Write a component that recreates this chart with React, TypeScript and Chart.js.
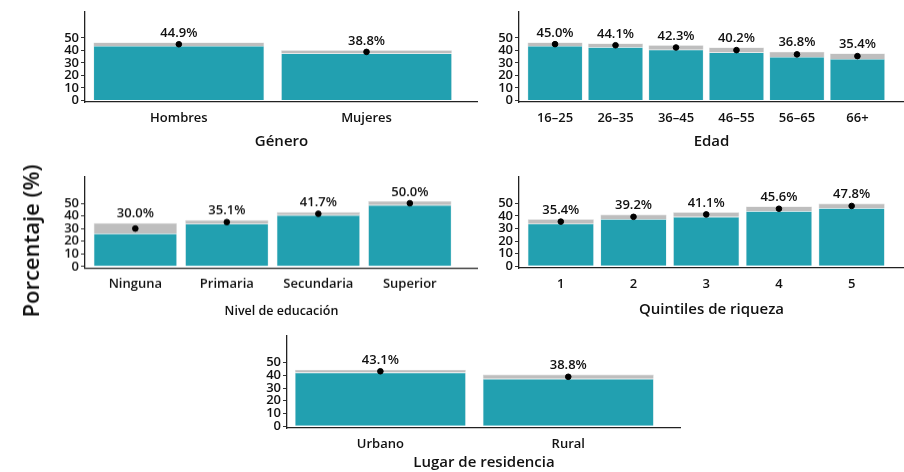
import React, { useEffect, useRef } from "react";
import { Chart, registerables } from "chart.js";

Chart.register(...registerables);

// ---------- DATA ----------
const generoLabels = ["Hombres", "Mujeres"];
const generoValues = [44.9, 38.8];
const generoLow = [43.6, 37.6];
const generoHigh = [46.3, 40.2];

const edadLabels = ["16–25", "26–35", "36–45", "46–55", "56–65", "66+"];
const edadValues = [45.0, 44.1, 42.3, 40.2, 36.8, 35.4];
const edadLow = [43.6, 42.6, 40.6, 38.3, 34.7, 33.2];
const edadHigh = [46.3, 45.5, 44.1, 42.3, 38.9, 37.6];

const educLabels = ["Ninguna", "Primaria", "Secundaria", "Superior"];
const educValues = [30.0, 35.1, 41.7, 50.0];
const educLow = [26.0, 33.7, 40.6, 48.6];
const educHigh = [34.3, 36.6, 43.0, 51.6];

const quintilLabels = ["1", "2", "3", "4", "5"];
const quintilValues = [35.4, 39.2, 41.1, 45.6, 47.8];
const quintilLow = [33.7, 37.4, 39.2, 43.7, 46.0];
const quintilHigh = [37.3, 41.0, 42.9, 47.4, 49.7];

const residLabels = ["Urbano", "Rural"];
const residValues = [43.1, 38.8];
const residLow = [42.1, 37.2];
const residHigh = [44.3, 40.5];

const yTicks = [0, 10, 20, 30, 40, 50];
const yAxisTitle = "Porcentaje (%)";

// ---------- STYLE ----------
const FONT = "'Open Sans', 'Noto Sans', sans-serif";
const TEAL = "#22A0B0";
const GREY = "#BEBEBE";
const TEXT = "#111111";
const Y_W = 45;

type PanelProps = {
  labels: string[];
  values: number[];
  low: number[];
  high: number[];
  title: string;
  titleSize: number;
  left: number;
  right: number;
  top: number;
  bottom: number;
  xmin: number;
  xmax: number;
  titleY: number;
};

function Panel(p: PanelProps) {
  const ref = useRef<HTMLCanvasElement | null>(null);
  const xH = p.titleY + p.titleSize * 0.6 - p.bottom;
  const width = p.right - p.left + Y_W + 1;
  const height = p.bottom - p.top + xH;

  useEffect(() => {
    if (!ref.current) return;
    const labelPlugin = {
      id: "valueLabels",
      afterDatasetsDraw(chart: any) {
        const ctx = chart.ctx;
        const xs = chart.scales.x;
        const ys = chart.scales.y;
        ctx.save();
        ctx.font = `600 13px ${FONT}`;
        ctx.fillStyle = TEXT;
        ctx.textAlign = "center";
        ctx.textBaseline = "alphabetic";
        p.values.forEach((v, i) => {
          const x = xs.getPixelForValue(i);
          const y = ys.getPixelForValue(p.high[i]) - 5.5;
          ctx.fillText(v.toFixed(1) + "%", x, y);
        });
        ctx.restore();
      },
    };
    const chart = new Chart(ref.current, {
      type: "bar",
      data: {
        datasets: [
          {
            type: "bar",
            data: p.low.map((v, i) => ({ x: i, y: v })),
            backgroundColor: TEAL,
            borderColor: "#cfe3e6",
            borderWidth: 0.6,
            grouped: false,
            categoryPercentage: 1,
            barPercentage: 0.91,
            order: 3,
          } as any,
          {
            type: "bar",
            data: p.low.map((v, i) => ({ x: i, y: [v, p.high[i]] })),
            backgroundColor: GREY,
            borderColor: "#d6d6d6",
            borderWidth: 0.6,
            grouped: false,
            categoryPercentage: 1,
            barPercentage: 0.91,
            order: 2,
          } as any,
          {
            type: "scatter",
            data: p.values.map((v, i) => ({ x: i, y: v })),
            backgroundColor: "#000",
            borderColor: "#000",
            pointRadius: 2.8,
            clip: false,
            order: 1,
          } as any,
        ],
      },
      options: {
        animation: false,
        responsive: false,
        devicePixelRatio: 1,
        layout: { padding: 0, autoPadding: false },
        plugins: { legend: { display: false }, tooltip: { enabled: false } },
        scales: {
          x: {
            type: "linear",
            min: p.xmin,
            max: p.xmax,
            offset: false,
            afterBuildTicks: (s: any) => {
              s.ticks = p.labels.map((_, i) => ({ value: i }));
            },
            afterFit: (s: any) => {
              s.height = xH;
              s.paddingLeft = 0;
              s.paddingRight = 0;
            },
            ticks: {
              autoSkip: false,
              maxRotation: 0,
              padding: 8,
              color: TEXT,
              font: { family: FONT, size: 13, weight: "600" },
              callback: (v: any) => p.labels[Math.round(Number(v))] ?? "",
            },
            grid: { display: true, drawOnChartArea: false, drawTicks: false, offset: false },
            border: { display: true, color: "#222", width: 1.3 },
            title: {
              display: true,
              text: p.title,
              color: TEXT,
              font: { family: FONT, size: p.titleSize, weight: "600" },
              padding: { top: 0, bottom: 0 },
            },
          } as any,
          y: {
            min: -1.3,
            max: 71.5,
            afterBuildTicks: (s: any) => {
              s.ticks = yTicks.map((v) => ({ value: v }));
            },
            afterFit: (s: any) => {
              s.width = Y_W;
              s.paddingTop = 0;
              s.paddingBottom = 0;
            },
            ticks: {
              autoSkip: false,
              padding: 2,
              color: TEXT,
              font: { family: FONT, size: 13, weight: "600" },
              callback: (v: any) => String(v),
            },
            grid: { display: true, drawOnChartArea: false, drawTicks: true, tickLength: 4, color: "#333" },
            border: { display: true, color: "#222", width: 1.3 },
          } as any,
        },
      },
      plugins: [labelPlugin],
    });
    return () => chart.destroy();
  }, []);

  return (
    <canvas
      ref={ref}
      width={width}
      height={height}
      style={{ position: "absolute", left: p.left - Y_W, top: p.top, width, height }}
    />
  );
}

export default function App() {
  return (
    <div style={{ position: "absolute", left: 0, top: 0, width: 904, height: 472, background: "#fff", overflow: "hidden" }}>
      <Panel labels={generoLabels} values={generoValues} low={generoLow} high={generoHigh}
        title="Género" titleSize={15} left={85} right={477} top={11} bottom={102}
        xmin={-0.5} xmax={1.594} titleY={142} />
      <Panel labels={edadLabels} values={edadValues} low={edadLow} high={edadHigh}
        title="Edad" titleSize={15} left={519} right={903} top={11} bottom={102}
        xmin={-0.596} xmax={5.77} titleY={142} />
      <Panel labels={educLabels} values={educValues} low={educLow} high={educHigh}
        title="Nivel de educación" titleSize={12.5} left={85} right={477} top={176} bottom={268}
        xmin={-0.55} xmax={3.745} titleY={311} />
      <Panel labels={quintilLabels} values={quintilValues} low={quintilLow} high={quintilHigh}
        title="Quintiles de riqueza" titleSize={15} left={519} right={903} top={176} bottom={268}
        xmin={-0.575} xmax={4.72} titleY={310} />
      <Panel labels={residLabels} values={residValues} low={residLow} high={residHigh}
        title="Lugar de residencia" titleSize={15} left={287} right={680} top={335} bottom={428}
        xmin={-0.497} xmax={1.6} titleY={463} />
      <div
        style={{
          position: "absolute",
          left: 30,
          top: 241,
          transform: "translate(-50%, -50%) rotate(-90deg)",
          whiteSpace: "nowrap",
          fontFamily: FONT,
          fontSize: 22,
          fontWeight: 600,
          color: TEXT,
        }}
      >
        {yAxisTitle}
      </div>
    </div>
  );
}
